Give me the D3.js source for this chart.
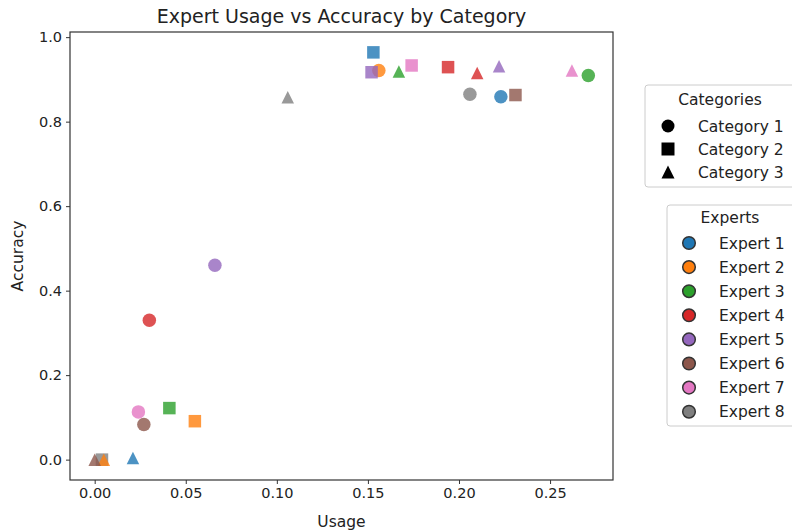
<!DOCTYPE html>
<html>
<head>
<meta charset="utf-8">
<script src="https://cdn.jsdelivr.net/npm/d3@7"></script>
<style>
  body { margin: 0; background: #fff; }
  svg { font-family: "DejaVu Sans", sans-serif; }
</style>
</head>
<body>
<div id="chart"></div>
<script>
// data
var experts = ['Expert 1', 'Expert 2', 'Expert 3', 'Expert 4', 'Expert 5', 'Expert 6', 'Expert 7', 'Expert 8'];
var categories = ['Category 1', 'Category 2', 'Category 3'];
var colors = ['#1f77b4', '#ff7f0e', '#2ca02c', '#d62728', '#9467bd', '#8c564b', '#e377c2', '#7f7f7f'];

// usage per category, one value per expert
var usageCat1 = [0.223, 0.156, 0.271, 0.030, 0.066, 0.027, 0.024, 0.206];
var usageCat2 = [0.153, 0.055, 0.041, 0.194, 0.152, 0.231, 0.174, 0.004];
var usageCat3 = [0.021, 0.005, 0.167, 0.210, 0.222, 0.000, 0.262, 0.106];
// accuracy per category, one value per expert
var accCat1 = [0.859, 0.921, 0.909, 0.330, 0.460, 0.083, 0.113, 0.865];
var accCat2 = [0.964, 0.091, 0.122, 0.929, 0.917, 0.863, 0.933, 0.000];
var accCat3 = [0.004, 0.000, 0.919, 0.915, 0.931, 0.000, 0.921, 0.858];

var xTicks = [0, 0.05, 0.10, 0.15, 0.20, 0.25];
var yTicks = [0, 0.2, 0.4, 0.6, 0.8, 1.0];

var width = 792, height = 531;
var plotLeft = 70, plotRight = 613, plotTop = 32, plotBottom = 480;

var usage = [usageCat1, usageCat2, usageCat3];
var acc = [accCat1, accCat2, accCat3];
var points = [];
categories.forEach(function(c, ci) {
  experts.forEach(function(e, ei) {
    points.push({ cat: ci, expert: ei, x: usage[ci][ei], y: acc[ci][ei] });
  });
});

var svg = d3.select('#chart').append('svg')
  .attr('width', width)
  .attr('height', height);

// 5% margins like matplotlib
var xMin = d3.min(points, d => d.x), xMax = d3.max(points, d => d.x);
var yMin = d3.min(points, d => d.y), yMax = d3.max(points, d => d.y);
var xPad = (xMax - xMin) * 0.05, yPad = (yMax - yMin) * 0.05;

var xScale = d3.scaleLinear().domain([xMin - xPad, xMax + xPad]).range([plotLeft, plotRight]);
var yScale = d3.scaleLinear().domain([yMin - yPad, yMax + yPad]).range([plotBottom, plotTop]);

var xAxis = d3.axisBottom(xScale).tickValues(xTicks).tickFormat(d3.format('.2f')).tickSize(4).tickPadding(4);
var yAxis = d3.axisLeft(yScale).tickValues(yTicks).tickFormat(d3.format('.1f')).tickSize(4).tickPadding(4);

var gx = svg.append('g').attr('transform', 'translate(0,' + plotBottom + ')').call(xAxis);
var gy = svg.append('g').attr('transform', 'translate(' + plotLeft + ',0)').call(yAxis);
[gx, gy].forEach(function(g) {
  g.select('.domain').remove();
  g.selectAll('line').attr('stroke', '#333');
  g.selectAll('text').attr('fill', '#222').style('font-size', '14.5px').style('font-family', '"DejaVu Sans", sans-serif');
});

// marker shapes, centred like matplotlib
function markerPath(cat, s) {
  var h = s / 2;
  if (cat === 0) return d3.symbol().type(d3.symbolCircle).size(Math.PI * h * h)();
  if (cat === 1) return 'M' + (-h) + ',' + (-h) + 'H' + h + 'V' + h + 'H' + (-h) + 'Z';
  return 'M0,' + (-h) + 'L' + h + ',' + h + 'L' + (-h) + ',' + h + 'Z';
}

svg.append('g').selectAll('path')
  .data(points)
  .enter()
  .append('path')
  .attr('d', d => markerPath(d.cat, d.cat === 0 ? 13.5 : 12.5))
  .attr('transform', d => 'translate(' + xScale(d.x) + ',' + yScale(d.y) + ')')
  .attr('fill', d => colors[d.expert])
  .attr('fill-opacity', 0.8);

// frame
svg.append('rect')
  .attr('x', plotLeft).attr('y', plotTop)
  .attr('width', plotRight - plotLeft).attr('height', plotBottom - plotTop)
  .attr('fill', 'none').attr('stroke', '#333').attr('stroke-width', 1.2);

// title and axis labels
svg.append('text')
  .attr('x', (plotLeft + plotRight) / 2).attr('y', 23)
  .attr('text-anchor', 'middle')
  .style('font-size', '19px').attr('fill', '#222')
  .text('Expert Usage vs Accuracy by Category');

svg.append('text')
  .attr('x', (plotLeft + plotRight) / 2).attr('y', 527)
  .attr('text-anchor', 'middle')
  .style('font-size', '15.5px').attr('fill', '#222')
  .text('Usage');

svg.append('text')
  .attr('transform', 'translate(23,' + (plotTop + plotBottom) / 2 + ') rotate(-90)')
  .attr('text-anchor', 'middle')
  .style('font-size', '15.5px').attr('fill', '#222')
  .text('Accuracy');

// categories legend
var leg1 = svg.append('g');
leg1.append('rect')
  .attr('x', 645).attr('y', 85).attr('width', 160).attr('height', 102)
  .attr('rx', 3).attr('fill', '#fff').attr('stroke', '#ccc');
leg1.append('text')
  .attr('x', 720).attr('y', 105).attr('text-anchor', 'middle')
  .style('font-size', '15.5px').attr('fill', '#222').text('Categories');
categories.forEach(function(c, i) {
  var y = 126 + i * 23;
  leg1.append('path')
    .attr('d', markerPath(i, 13))
    .attr('transform', 'translate(668,' + y + ')')
    .attr('fill', '#000');
  leg1.append('text')
    .attr('x', 698).attr('y', y + 5.5)
    .style('font-size', '15.5px').attr('fill', '#222').text(c);
});

// experts legend
var leg2 = svg.append('g');
leg2.append('rect')
  .attr('x', 667).attr('y', 205).attr('width', 140).attr('height', 221)
  .attr('rx', 3).attr('fill', '#fff').attr('stroke', '#ccc');
leg2.append('text')
  .attr('x', 730).attr('y', 223).attr('text-anchor', 'middle')
  .style('font-size', '15.5px').attr('fill', '#222').text('Experts');
experts.forEach(function(e, i) {
  var y = 243 + i * 24.1;
  leg2.append('circle')
    .attr('cx', 689).attr('cy', y).attr('r', 6.3)
    .attr('fill', colors[i]).attr('stroke', '#333').attr('stroke-width', 1.5);
  leg2.append('text')
    .attr('x', 719).attr('y', y + 5.5)
    .style('font-size', '15.5px').attr('fill', '#222').text(e);
});
</script>
</body>
</html>
